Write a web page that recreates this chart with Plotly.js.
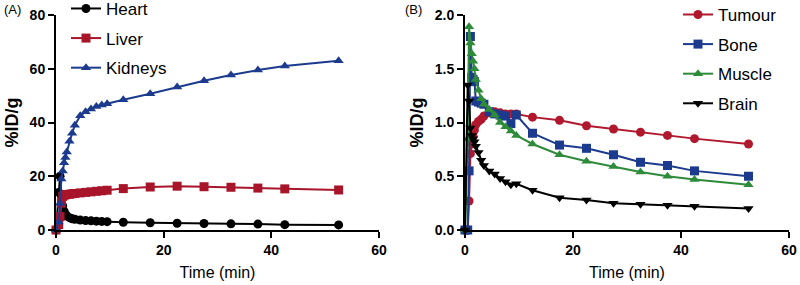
<!DOCTYPE html>
<html>
<head>
<meta charset="utf-8">
<script src="https://cdn.plot.ly/plotly-3.0.1.min.js"></script>
<style>html,body{margin:0;padding:0;background:#fff;}#chart{width:800px;height:285px;}</style>
</head>
<body>
<div id="chart"></div>
<script>
// Time points (min)
const time = [0, 0.5, 0.75, 1, 1.25, 1.5, 1.75, 2, 2.5, 3, 3.5, 4.5, 5.5, 6.5, 7.5, 8.5, 9.5, 12.5, 17.5, 22.5, 27.5, 32.5, 37.5, 42.5, 52.5];

// Panel A (%ID/g)
const heart   = [0, 14, 20, 13, 9, 7, 6, 5.2, 4.6, 4.2, 4.0, 3.7, 3.5, 3.4, 3.3, 3.2, 3.1, 2.9, 2.7, 2.5, 2.4, 2.3, 2.2, 2.0, 1.9];
const liver   = [0, 2, 5, 10, 12.5, 13, 13.1, 13.2, 13.3, 13.5, 13.6, 13.8, 14.0, 14.2, 14.4, 14.6, 14.8, 15.4, 16.0, 16.3, 16.1, 15.9, 15.6, 15.3, 14.9];
const kidneys = [0, 3, 10, 19, 22, 25, 27, 29, 33, 36, 39, 42.5, 44, 45, 46, 46.5, 47, 48.5, 50.7, 53.2, 55.5, 57.7, 59.5, 61, 63];

// Panel B (%ID/g)
const tumour = [0, 0, 0.27, 0.71, 0.8, 0.87, 0.93, 0.98, 1.01, 1.03, 1.06, 1.09, 1.1, 1.09, 1.08, 1.08, 1.08, 1.05, 1.02, 0.97, 0.94, 0.91, 0.88, 0.85, 0.8];
const bone   = [0, 0, 0.55, 1.8, 1.42, 1.4, 1.38, 1.2, 1.19, 1.18, 1.17, 1.1, 1.08, 1.07, 1.06, 0.99, 1.07, 0.9, 0.79, 0.76, 0.7, 0.63, 0.6, 0.55, 0.5];
const muscle = [0, 0.85, 1.89, 1.74, 1.64, 1.57, 1.5, 1.4, 1.3, 1.22, 1.17, 1.12, 1.07, 1.0, 0.96, 0.92, 0.88, 0.8, 0.7, 0.64, 0.59, 0.54, 0.5, 0.47, 0.42];
const brain  = [0, 1.35, 1.2, 0.95, 0.88, 0.85, 0.82, 0.78, 0.72, 0.65, 0.6, 0.55, 0.52, 0.48, 0.45, 0.42, 0.43, 0.37, 0.3, 0.28, 0.25, 0.24, 0.23, 0.22, 0.2];

const FONT = 'Liberation Sans, Arial, Helvetica, sans-serif';
const C_BLACK = '#000000', C_RED = '#A8152B', C_BLUE = '#1C3A8E', C_GREEN = '#2E8B3A', C_TRED = '#B0182E';

function tr(name, y, color, symbol, xa, ya, legend, grp) {
  return {
    x: time, y: y, name: name, type: 'scatter', mode: 'lines+markers',
    xaxis: xa, yaxis: ya, legend: legend, legendgroup: grp,
    line: {color: color, width: 2},
    marker: {color: color, symbol: symbol, size: 9},
    cliponaxis: false
  };
}

const data = [
  tr('Heart', heart, C_BLACK, 'circle', 'x', 'y', 'legend', 'a1'),
  tr('Liver', liver, C_RED, 'square', 'x', 'y', 'legend', 'a2'),
  tr('Kidneys', kidneys, C_BLUE, 'triangle-up', 'x', 'y', 'legend', 'a3'),
  tr('Tumour', tumour, C_TRED, 'circle', 'x2', 'y2', 'legend2', 'b1'),
  tr('Bone', bone, C_BLUE, 'square', 'x2', 'y2', 'legend2', 'b2'),
  tr('Muscle', muscle, C_GREEN, 'triangle-up', 'x2', 'y2', 'legend2', 'b3'),
  tr('Brain', brain, C_BLACK, 'triangle-down', 'x2', 'y2', 'legend2', 'b4')
];

const axBase = {
  showline: true, linecolor: '#000', linewidth: 2, mirror: false,
  ticks: 'outside', ticklen: 6, tickwidth: 2, tickcolor: '#000',
  showgrid: false, zeroline: false, fixedrange: true, automargin: false
};
const xtitle = {text: 'Time (min)', font: {family: FONT, size: 16, color: '#000'}, standoff: 10};
const ytitle = {text: '%ID/g', font: {family: FONT, size: 18, color: '#000', weight: 'bold'}, standoff: 6};
const tickfont = {family: FONT, size: 14, color: '#000', weight: 'bold'};

const legBase = {
  font: {family: FONT, size: 17, color: '#000'},
  bgcolor: 'rgba(0,0,0,0)', borderwidth: 0,
  traceorder: 'grouped', tracegroupgap: 4.5,
  xanchor: 'left', yanchor: 'top', itemwidth: 30
};

const layout = {
  width: 800, height: 285,
  margin: {l: 0, r: 0, t: 15, b: 55, pad: 0, autoexpand: false},
  paper_bgcolor: '#fff', plot_bgcolor: '#fff',
  font: {family: FONT, color: '#000'},
  showlegend: true,
  xaxis: Object.assign({}, axBase, {domain: [56/800, 379/800], range: [0, 60], dtick: 20, tick0: 0, tickfont: tickfont, title: xtitle, anchor: 'y'}),
  yaxis: Object.assign({}, axBase, {domain: [0, 1], range: [0, 80], dtick: 20, tick0: 0, tickfont: tickfont, title: ytitle, anchor: 'x'}),
  xaxis2: Object.assign({}, axBase, {domain: [465/800, 789/800], range: [0, 60], dtick: 20, tick0: 0, tickfont: tickfont, title: xtitle, anchor: 'y2'}),
  yaxis2: Object.assign({}, axBase, {domain: [0, 1], range: [0, 2], dtick: 0.5, tick0: 0, tickformat: '.1f', tickfont: tickfont, title: ytitle, anchor: 'x2'}),
  legend: Object.assign({}, legBase, {x: 66/800, y: 1.112}),
  legend2: Object.assign({}, legBase, {x: 678/800, y: 1.084}),
  annotations: [
    {text: '(A)', xref: 'paper', yref: 'paper', x: 2/800, y: 1.07, xanchor: 'left', yanchor: 'top', showarrow: false, font: {family: FONT, size: 13, color: '#000'}},
    {text: '(B)', xref: 'paper', yref: 'paper', x: 403/800, y: 1.07, xanchor: 'left', yanchor: 'top', showarrow: false, font: {family: FONT, size: 13, color: '#000'}}
  ]
};

Plotly.newPlot('chart', data, layout, {staticPlot: true, displayModeBar: false});
</script>
</body>
</html>
